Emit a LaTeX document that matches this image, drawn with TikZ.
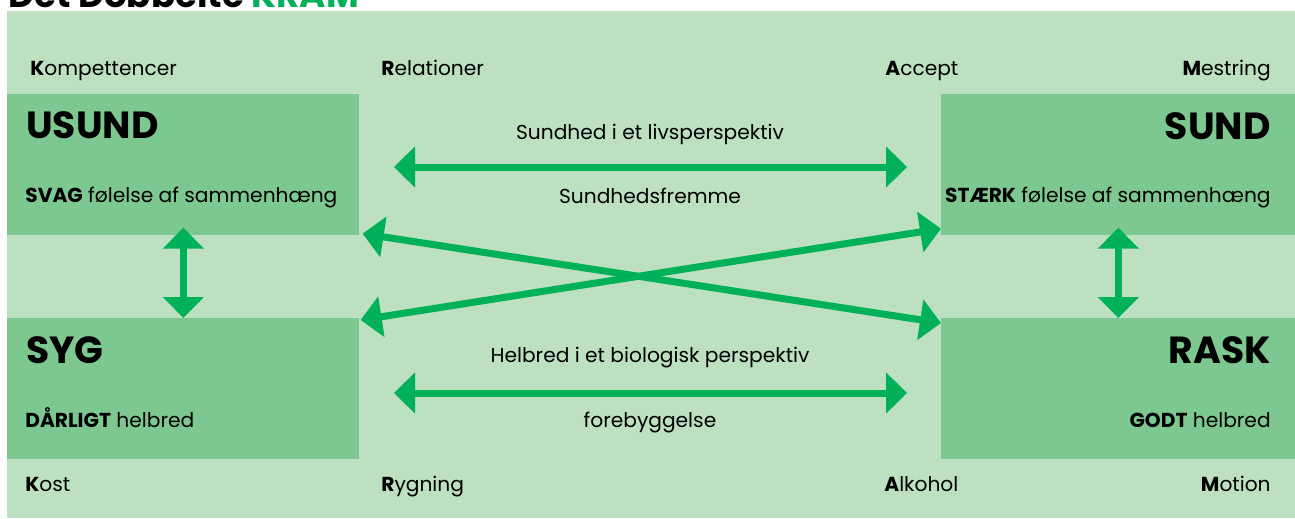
\documentclass[tikz,border=0pt]{standalone}
\usepackage{fontspec}
\setmainfont{Poppins}
\usepackage{xcolor}
\usetikzlibrary{arrows.meta}

\definecolor{kramlys}{RGB}{189,224,193}
\definecolor{kramboks}{RGB}{125,200,144}
\definecolor{kramgroen}{RGB}{0,177,89}

\tikzset{
  boks/.style={fill=kramboks, minimum width=7.04cm, minimum height=2.82cm,
    anchor=north west, inner sep=0pt},
  pil/.style={kramgroen, line width=0.14cm,
    {Triangle[length=0.42cm,width=0.8cm]}-{Triangle[length=0.42cm,width=0.8cm]}},
  lille/.style={font=\fontsize{11.5}{13}\selectfont, inner sep=0pt},
  stor/.style={font=\fontsize{21.5}{24}\selectfont\bfseries, inner sep=0pt},
}

\begin{document}
\begin{tikzpicture}[x=0.02cm,y=-0.02cm]
\useasboundingbox (0,0) rectangle (1295,518);
\fill[kramlys] (7,11) rectangle (1295,518);
\node[stor, font=\fontsize{20.3}{24}\selectfont\bfseries, anchor=base west] (titel) at (8,7) {Det Dobbelte \textcolor{kramgroen}{KRAM}};

% de fire felter
\node[boks] (usund) at (7,94) {};
\node[boks, minimum width=7.08cm] (sund) at (941,94) {};
\node[boks] (syg) at (7,318) {};
\node[boks, minimum width=7.08cm] (rask) at (941,318) {};

% KRAM ord foroven og forneden
\node[lille, anchor=base west] (k1) at (30,75) {\textbf{K}ompettencer};
\node[lille, anchor=base west] (r1) at (381,75) {\textbf{R}elationer};
\node[lille, anchor=base west] (a1) at (885,75) {\textbf{A}ccept};
\node[lille, anchor=base east] (m1) at (1271,75) {\textbf{M}estring};
\node[lille, anchor=base west] (k2) at (25,491) {\textbf{K}ost};
\node[lille, anchor=base west] (r2) at (381,491) {\textbf{R}ygning};
\node[lille, anchor=base west] (a2) at (884,491) {\textbf{A}lkohol};
\node[lille, anchor=base east] (m2) at (1271,491) {\textbf{M}otion};

% tekst i felterne
\node[stor, anchor=base west] (usundtxt) at (26,138) {USUND};
\node[lille, anchor=base west] (svag) at (25,202) {\textbf{SVAG} følelse af sammenhæng};
\node[stor, anchor=base west] (sygtxt) at (26,363) {SYG};
\node[lille, anchor=base west] (daarligt) at (25,427) {\textbf{DÅRLIGT} helbred};
\node[stor, anchor=base east] (sundtxt) at (1271,139) {SUND};
\node[lille, anchor=base east] (staerk) at (1271,202) {\textbf{STÆRK} følelse af sammenhæng};
\node[stor, anchor=base east] (rasktxt) at (1271,363) {RASK};
\node[lille, anchor=base east] (godt) at (1271,427) {\textbf{GODT} helbred};

% tekst mellem felterne
\node[lille, anchor=base] (livs) at (650,139) {Sundhed i et livsperspektiv};
\node[lille, anchor=base] (fremme) at (650,203) {Sundhedsfremme};
\node[lille, anchor=base] (bio) at (650,362) {Helbred i et biologisk perspektiv};
\node[lille, anchor=base] (foreb) at (650,427) {forebyggelse};

% pile
\coordinate (h1a) at (394,167);
\coordinate (h1b) at (907,167);
\coordinate (h2a) at (394,393);
\coordinate (h2b) at (907,393);
\draw[pil] (h1a) -- (h1b);
\draw[pil] (h2a) -- (h2b);
\draw[pil] ([yshift=0.16cm]usund.south) -- (syg.north);
\draw[pil] ([yshift=0.16cm]sund.south) -- (rask.north);
\draw[pil] ([shift={(0.06cm,0.04cm)}]usund.south east) -- ([yshift=-0.1cm]rask.north west);
\draw[pil] ([shift={(0.02cm,-0.04cm)}]syg.north east) -- ([yshift=0.14cm]sund.south west);
\end{tikzpicture}
\end{document}
